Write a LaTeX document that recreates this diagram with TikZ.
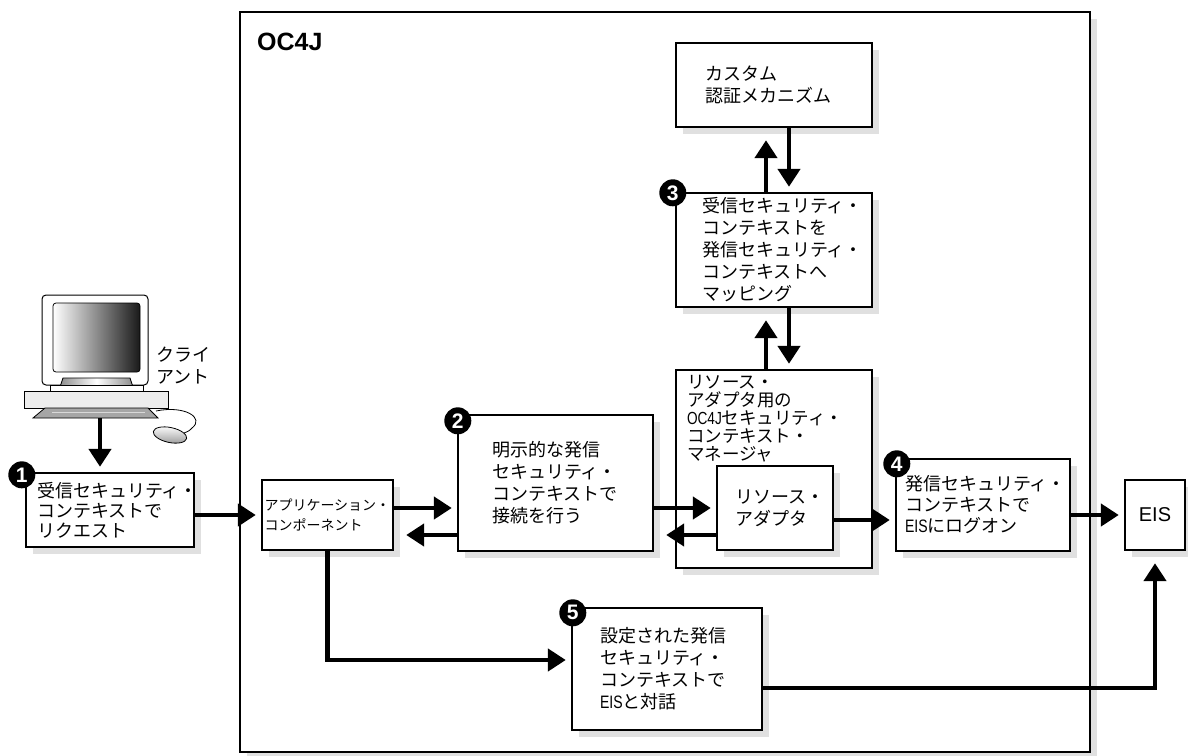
\documentclass[tikz,border=0pt]{standalone}
\usepackage{fontspec}
\setmainfont{Noto Sans CJK JP}
\newfontfamily\lat[FakeStretch=0.78]{Liberation Sans}
\newfontfamily\headfont{Liberation Sans}
\usepackage{tikz}
\usetikzlibrary{shapes}
\usetikzlibrary{arrows.meta}
\usetikzlibrary{positioning}
\usetikzlibrary{shadows}

\begin{document}
\begin{tikzpicture}[x=1pt,y=-1pt]
\tikzstyle{box} = [rectangle, draw, line width=2.4pt, fill=white,
general shadow={fill=black!12, shadow xshift=7pt, shadow yshift=-7pt},
align=left, inner sep=0pt, font=\fontsize{18}{22}\selectfont]
\tikzstyle{num} = [circle, fill=black, text=white, minimum size=27pt,
inner sep=0pt, font=\headfont\bfseries\fontsize{21}{21}\selectfont]
\tikzstyle{line} = [draw, line width=4.5pt, ->, >={Triangle[length=18pt,width=22pt]}, shorten >=5pt]
\tikzstyle{retline} = [line, shorten >=12pt]

\useasboundingbox (0,0) rectangle (1188,755);

% container
\node [box, minimum width=850pt, minimum height=740pt] (oc4j) at (665,382) {};
\node [anchor=west, inner sep=0pt, font=\headfont\bfseries\fontsize{25}{25}\selectfont] (title) at (257,42) {OC4J};

% client machine
\draw [line width=1pt, fill=white, rounded corners=4pt] (42,295) rectangle (148,385);
\draw [line width=0.8pt, left color=white, right color=black!90, rounded corners=3pt] (53,303) rectangle (140,372);
\draw [line width=0.8pt, left color=black!45, right color=black!45, middle color=white] (63,378) -- (130,378) -- (133,387) -- (60,387) -- cycle;
\draw [line width=0.8pt, fill=white] (50,385) rectangle (143,391);
\draw [line width=1pt, fill=black!7] (24,391) rectangle (168,408);
\draw [line width=0.8pt, fill=black!35] (45,408) -- (148,408) -- (158,418) -- (33,418) -- cycle;
\draw [line width=0.8pt, black!15] (52,412) -- (145,412);
\draw [line width=0.8pt] (156,411) .. controls (185,405) and (205,418) .. (192,428) .. controls (189,431) .. (184,433);
\draw [line width=0.8pt, top color=white, bottom color=black!40] (170,435) ellipse [x radius=17, y radius=7.5, rotate=-12];
\coordinate (pc) at (100,418);
\node [anchor=west, align=left, inner sep=0pt, font=\fontsize{18}{22}\selectfont] (client) at (156,366) {クライ\\アント};

% row of boxes
\node [box, minimum width=168pt, minimum height=74pt, text width=146pt, font=\fontsize{18}{20}\selectfont] (req) at (110,510) {受信セキュリティ・\\コンテキストで\\リクエスト};
\node [box, minimum width=131pt, minimum height=70pt, text width=126pt, font=\fontsize{14}{20}\selectfont] (app) at (327.5,515) {アプリケーション・\\コンポーネント};
\node [box, minimum width=195pt, minimum height=136pt, text width=127pt] (conn) at (555.5,483) {明示的な発信\\セキュリティ・\\コンテキストで\\接続を行う};
\node [box, minimum width=196pt, minimum height=84pt, text width=138pt] (auth) at (774,85) {カスタム\\認証メカニズム};
\node [box, minimum width=196pt, minimum height=114pt, text width=144pt] (map) at (774,250) {受信セキュリティ・\\コンテキストを\\発信セキュリティ・\\コンテキストへ\\マッピング};
\node [box, minimum width=196pt, minimum height=198pt] (mgr) at (774,469) {};
\node [anchor=north west, align=left, inner sep=0pt, font=\fontsize{17.5}{18}\selectfont] (mgrtext) at ([xshift=12pt,yshift=-6pt]mgr.north west) {リソース・\\アダプタ用の\\{\lat OC4J}セキュリティ・\\コンテキスト・\\マネージャ};
\node [box, minimum width=116pt, minimum height=84pt, text width=80pt] (adapt) at (775,508) {リソース・\\アダプタ};
\node [box, minimum width=174pt, minimum height=92pt, text width=156pt, font=\fontsize{18}{21}\selectfont] (logon) at (983,505) {発信セキュリティ・\\コンテキストで\\{\lat EIS}にログオン};
\node [box, minimum width=60pt, minimum height=70pt, align=center, font=\headfont\fontsize{20}{20}\selectfont] (eis) at (1155,515) {EIS};
\node [box, minimum width=190pt, minimum height=122pt, text width=134pt] (talk) at (667,669) {設定された発信\\セキュリティ・\\コンテキストで\\{\lat EIS}と対話};

% step numbers
\node [num] (n1) at ([xshift=-3pt,yshift=-3pt]req.north west) {1};
\node [num] (n2) at ([xshift=1pt,yshift=-7pt]conn.north west) {2};
\node [num] (n3) at ([xshift=-2pt,yshift=-1pt]map.north west) {3};
\node [num] (n4) at ([xshift=2pt,yshift=-6pt]logon.north west) {4};
\node [num] (n5) at ([xshift=2pt,yshift=-6pt]talk.north west) {5};

% connectors
\draw [line] (pc) -- (pc |- req.north);
\draw [line] (req.east |- app.west) -- (app.west);
\draw [line] ([yshift=7pt]app.east) -- ([yshift=7pt]app.east -| conn.west);
\draw [retline] ([yshift=-20pt]app.east -| conn.west) -- ([yshift=-20pt]app.east);
\draw [line] (conn.east |- adapt.west) -- (adapt.west);
\draw [retline] ([yshift=-27pt]adapt.west) -- ([yshift=-27pt]adapt.west -| conn.east);
\draw [line] ([yshift=-12pt]adapt.east) -- ([yshift=-12pt]adapt.east -| logon.west);
\draw [line] (logon.east |- eis.west) -- (eis.west);
\draw [retline] ([xshift=-8pt]map.north) -- ([xshift=-8pt]map.north |- auth.south);
\draw [line] ([xshift=15pt]auth.south) -- ([xshift=15pt]auth.south |- map.north);
\draw [retline] ([xshift=-8pt]mgr.north) -- ([xshift=-8pt]mgr.north |- map.south);
\draw [line] ([xshift=15pt]map.south) -- ([xshift=15pt]map.south |- mgr.north);
\draw [line] (app.south) |- ([yshift=9pt]talk.west);
\draw [retline] ([yshift=-19pt]talk.east) -| (eis.south);
\end{tikzpicture}
\end{document}
